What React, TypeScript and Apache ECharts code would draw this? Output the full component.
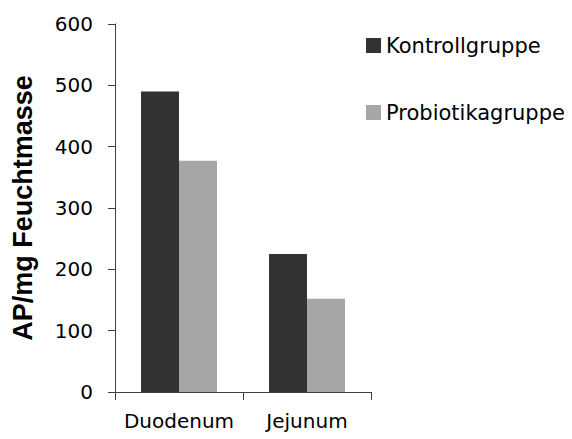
import React, { useEffect, useRef } from "react";
import * as echarts from "echarts";

const categories = ["Duodenum", "Jejunum"];
const seriesNames = ["Kontrollgruppe", "Probiotikagruppe"];
const kontrollValues = [490, 225];
const probiotikaValues = [377, 152];
const yTicks = { min: 0, max: 600, interval: 100 };
const yAxisTitle = "AP/mg Feuchtmasse";

export default function App() {
  const ref = useRef<HTMLDivElement>(null);
  useEffect(() => {
    document.body.style.margin = "0";
    if (!ref.current) return;
    const chart = echarts.init(ref.current, undefined, { renderer: "svg" });
    const axisLineStyle = { color: "#404040", width: 1 };
    chart.setOption({
      animation: false,
      backgroundColor: "#ffffff",
      grid: { left: 115, right: 201, top: 24, bottom: 47, containLabel: false },
      legend: {
        orient: "vertical",
        left: 361,
        top: 30,
        itemWidth: 15,
        itemHeight: 15,
        itemGap: 46,
        icon: "rect",
        textStyle: { fontFamily: "DejaVu Sans", fontSize: 21, color: "#000" },
        data: seriesNames,
      },
      xAxis: {
        type: "category",
        data: categories,
        axisLine: { show: true, lineStyle: axisLineStyle },
        axisTick: { show: true, length: 8, lineStyle: axisLineStyle },
        axisLabel: {
          interval: 0,
          margin: 19,
          fontFamily: "DejaVu Sans",
          fontSize: 20,
          color: "#000",
        },
      },
      yAxis: {
        type: "value",
        min: yTicks.min,
        max: yTicks.max,
        interval: yTicks.interval,
        name: yAxisTitle,
        nameLocation: "middle",
        nameGap: 79,
        nameTextStyle: {
          fontFamily: "Liberation Sans",
          fontWeight: "bold",
          fontSize: 27,
          color: "#000",
        },
        splitLine: { show: false },
        axisLine: { show: true, lineStyle: axisLineStyle },
        axisTick: { show: true, length: 7, lineStyle: axisLineStyle },
        axisLabel: {
          margin: 22,
          fontFamily: "DejaVu Sans",
          fontSize: 20,
          color: "#000",
        },
      },
      series: [
        {
          name: seriesNames[0],
          type: "bar",
          data: kontrollValues,
          barWidth: 38,
          barGap: "0%",
          itemStyle: { color: "#333333" },
        },
        {
          name: seriesNames[1],
          type: "bar",
          data: probiotikaValues,
          barWidth: 38,
          barGap: "0%",
          itemStyle: { color: "#a6a6a6" },
        },
      ],
    });
    return () => chart.dispose();
  }, []);
  return <div ref={ref} style={{ width: 572, height: 439 }} />;
}
